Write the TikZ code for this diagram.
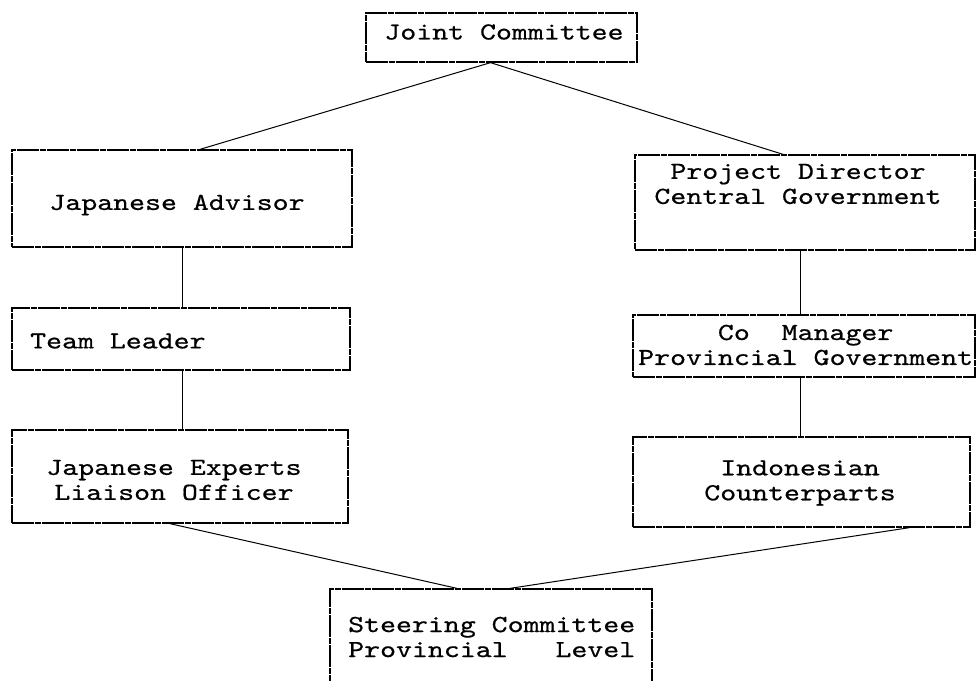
\documentclass[tikz,border=0pt]{standalone}
\usepackage{fontspec}
\newfontfamily\typefont[Extension=.otf,FakeStretch=1.24,FakeBold=0.6]{lmmono10-regular}
\begin{document}
\begin{tikzpicture}[x=1pt,y=-1pt]
	\tikzset{box/.style={draw,line width=1.3pt,dash pattern=on 22pt off 1pt on 6pt off 1pt,inner sep=0pt},
		txt/.style={font=\typefont\fontsize{24.5}{25}\selectfont,inner sep=0pt,align=center},
		link/.style={line width=1pt}
	}
	\useasboundingbox (0,0) rectangle (977,680);
	% boxes
	\node[box,minimum width=271pt,minimum height=49pt] (jc) at (501.5,37.5) {};
	\node[box,minimum width=340pt,minimum height=97pt] (adv) at (182,198.5) {};
	\node[box,minimum width=338pt,minimum height=62pt] (lead) at (181,339) {};
	\node[box,minimum width=336pt,minimum height=93pt] (exp) at (180,476.5) {};
	\node[box,minimum width=340pt,minimum height=95pt] (dir) at (805,202.5) {};
	\node[box,minimum width=342pt,minimum height=62pt] (mgr) at (804,346) {};
	\node[box,minimum width=337pt,minimum height=90pt] (cp) at (801.5,482) {};
	\node[box,minimum width=322pt,minimum height=140pt] (steer) at (491,659) {};
	% texts
	\node[txt] (jct) at (504,32) {Joint Committee};
	\node[txt] (advt) at (177,205) {Japanese Advisor};
	\node[txt,anchor=west] (leadt) at (30,341) {Team Leader};
	\node[txt] (expt) at (174,480) {Japanese Experts\\Liaison Officer};
	\node[txt] (dirt) at (798,184) {Project Director\\Central Government};
	\node[txt,align=left,anchor=west] (mgrt) at (638,345) {\phantom{Provi}Co\ \ Manager\\Provincial Government};
	\node[txt] (cpt) at (800,483) {Indonesian\\Counterparts};
	\node[txt,align=left,anchor=west] (steert) at (348,637) {Steering Committee\\Provincial\ \ \ Level};
	% connectors
	\draw[link] ([xshift=18pt]adv.north) -- ([xshift=-11pt]jc.south) -- ([xshift=-22pt]dir.north);
	\draw[link] (adv.south) -- (adv.south |- lead.north) (adv.south |- lead.south) -- (adv.south |- exp.north);
	\draw[link] ([xshift=-5pt]dir.south) -- ([xshift=-5pt]dir.south |- mgr.north)
		([xshift=-5pt]dir.south |- mgr.south) -- ([xshift=-5pt]dir.south |- cp.north);
	\draw[link] ([xshift=-10pt]exp.south) -- ([xshift=-34pt]steer.north);
	\draw[link] ([xshift=108pt]cp.south) -- ([xshift=19pt]steer.north);
\end{tikzpicture}
\end{document}
